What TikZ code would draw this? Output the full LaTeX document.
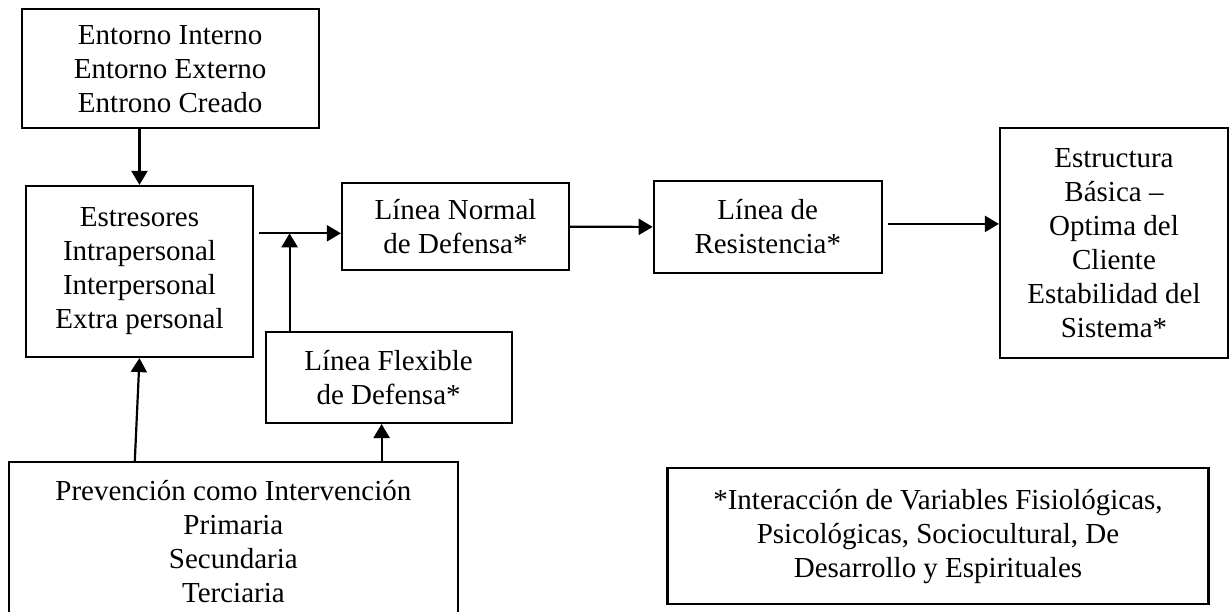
\documentclass[tikz,border=0pt]{standalone}
\usepackage{fontspec}
\setmainfont{Liberation Serif}
\usetikzlibrary{arrows.meta,calc}
\begin{document}
\begin{tikzpicture}[x=1pt,y=-1pt,
  box/.style={draw,line width=2.2pt,inner sep=0pt,align=center,
    font=\fontsize{29}{34}\selectfont},
  arr/.style={line width=2.2pt,-{Triangle[length=14pt,width=16pt]}},
  ln/.style={line width=2.2pt}]
\useasboundingbox (0,0) rectangle (1229,612);
\fill[white] (0,0) rectangle (1229,612);
\node[box,minimum width=297pt,minimum height=119pt] (ent) at (170.2,68.8)
  {Entorno Interno\\Entorno Externo\\Entrono Creado};
\node[box,minimum width=227pt,minimum height=171pt] (est) at (139.5,271.5)
  {Estresores\\Intrapersonal\\Interpersonal\\Extra personal};
\node[box,minimum width=227pt,minimum height=87pt] (norm) at (455.5,226.7)
  {Línea Normal\\de Defensa*};
\node[box,minimum width=228pt,minimum height=92pt] (res) at (767.8,226.9)
  {Línea de\\Resistencia*};
\node[box,minimum width=228pt,minimum height=230pt] (estr) at (1114,243.3)
  {Estructura\\Básica –\\Optima del\\Cliente\\Estabilidad del\\Sistema*};
\node[box,minimum width=246pt,minimum height=91pt] (flex) at (388.6,377.4)
  {Línea Flexible\\de Defensa*};
\node[box,minimum width=449pt,minimum height=158pt] (prev) at (233.4,541.3)
  {Prevención como Intervención\\Primaria\\Secundaria\\Terciaria};
\node[box,minimum width=541pt,minimum height=136pt] (int) at (938,536.3)
  {*Interacción de Variables Fisiológicas,\\Psicológicas, Sociocultural, De\\Desarrollo y Espirituales};
\coordinate (j) at (289.6,233.3);
\coordinate (fx) at (381.6,0);
\coordinate (p1) at ($(prev.north west)+(127,0)$);
\coordinate (e1) at ($(est.east |- j)+(5,0)$);
\coordinate (r2) at ([shift={(5,-3)}]res.east);
\draw[arr] (ent.south -| est.north) -- (est.north);
\draw[arr] (e1) -- (norm.west |- j);
\draw[arr] (flex.north -| j) -- (j);
\draw[arr] (norm.east) -- (res.west);
\draw[arr] (r2) -- (estr.west |- r2);
\draw[arr] (p1) -- (est.south);
\draw[arr] (prev.north -| fx) -- (flex.south -| fx);
\end{tikzpicture}
\end{document}
